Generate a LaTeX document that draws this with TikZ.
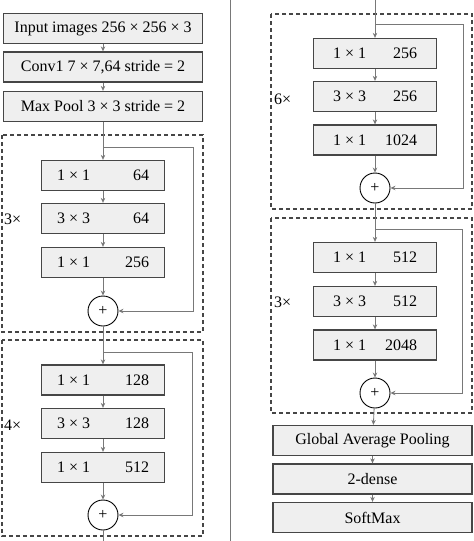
\documentclass[tikz,border=0pt]{standalone}
\usepackage{fontspec}
\setmainfont{Liberation Serif}
\usepackage{tikz}
\usetikzlibrary{arrows.meta}
\usepackage{xcolor}
\definecolor{boxfill}{RGB}{239,239,239}
\definecolor{boxline}{RGB}{70,70,70}
\definecolor{connline}{RGB}{120,120,120}

\begin{document}
\begin{tikzpicture}[x=1pt,y=-1pt,
  box/.style={draw=boxline,fill=boxfill,line width=1.3pt,minimum width=123pt,minimum height=30pt,inner sep=0pt,font=\fontsize{16}{19}\selectfont},
  wide/.style={box,minimum width=199pt},
  plus/.style={draw=black,circle,line width=0.9pt,minimum size=30pt,inner sep=0pt,font=\fontsize{16}{19}\selectfont},
  blk/.style={draw=boxline,line width=1.2pt,dash pattern=on 4pt off 3pt},
  conn/.style={draw=connline,line width=0.8pt},
  arr/.style={conn,-{Stealth[length=5pt,width=4.5pt]}},
  times/.style={font=\fontsize{16}{19}\selectfont,anchor=west,inner sep=0pt}]
\useasboundingbox (0,0) rectangle (474,541);
\draw[connline,line width=0.8pt] (230,0) -- (230,541);

  \node[wide] (inp)  at (103,28.5) {Input images 256 × 256 × 3};
  \node[wide] (conv) at (103,67)   {Conv1 7 × 7,64 stride = 2};
  \node[wide] (pool) at (103,106.5) {Max Pool 3 × 3 stride = 2};
\draw[arr] (inp) -- (conv);
\draw[arr] (conv) -- (pool);

\draw[blk] (2,135) rectangle (203,332);
  \node[times] (n1) at (4,219) {3×};
  \node[box] (a1) at (103,175.5) {\makebox[92pt]{1 × 1\hfill 64}};
  \node[box] (a2) at (103,218.5) {\makebox[92pt]{3 × 3\hfill 64}};
  \node[box] (a3) at (103,262.5) {\makebox[92pt]{1 × 1\hfill 256}};
  \node[plus] (c1) at (103,311) {+};
\coordinate (s1) at (103,147);
\coordinate (k1) at (193,147);
\draw[arr] (pool) -- (a1);
\draw[arr] (a1) -- (a2);
\draw[arr] (a2) -- (a3);
\draw[arr] (a3) -- (c1);
\draw[arr] (s1) -- (k1) |- (c1);

\draw[blk] (2,340) rectangle (203,536);
  \node[times] (n2) at (4,425) {4×};
  \node[box] (b1) at (103,380) {\makebox[92pt]{1 × 1\hfill 128}};
  \node[box] (b2) at (103,423.5) {\makebox[92pt]{3 × 3\hfill 128}};
  \node[box] (b3) at (103,467.5) {\makebox[92pt]{1 × 1\hfill 512}};
  \node[plus] (c2) at (103,515) {+};
\coordinate (s2) at (103,352);
\coordinate (k2) at (192,352);
\coordinate (bot) at (103,541);
\draw[arr] (c1) -- (b1);
\draw[arr] (b1) -- (b2);
\draw[arr] (b2) -- (b3);
\draw[arr] (b3) -- (c2);
\draw[arr] (s2) -- (k2) |- (c2);
\draw[conn] (c2) -- (bot);

\draw[blk] (271,14) rectangle (472,209);
  \node[times] (n3) at (274,99) {6×};
  \node[box] (d1) at (375,53.5) {\makebox[84pt]{1 × 1\hfill 256}};
  \node[box] (d2) at (375,96.5) {\makebox[84pt]{3 × 3\hfill 256}};
  \node[box] (d3) at (375,140)  {\makebox[84pt]{1 × 1\hfill 1024}};
  \node[plus] (c3) at (375,188) {+};
\coordinate (top) at (375,0);
\coordinate (s3) at (375,24);
\coordinate (k3) at (463,24);
\draw[arr] (top) -- (d1);
\draw[arr] (d1) -- (d2);
\draw[arr] (d2) -- (d3);
\draw[arr] (d3) -- (c3);
\draw[arr] (s3) -- (k3) |- (c3);

\draw[blk] (271,218) rectangle (472,413);
  \node[times] (n4) at (274,302) {3×};
  \node[box] (e1) at (375,257.5) {\makebox[84pt]{1 × 1\hfill 512}};
  \node[box] (e2) at (375,301.5) {\makebox[84pt]{3 × 3\hfill 512}};
  \node[box] (e3) at (375,345)   {\makebox[84pt]{1 × 1\hfill 2048}};
  \node[plus] (c4) at (375,393) {+};
\coordinate (s4) at (375,229);
\coordinate (k4) at (462,229);
\draw[arr] (c3) -- (e1);
\draw[arr] (e1) -- (e2);
\draw[arr] (e2) -- (e3);
\draw[arr] (e3) -- (c4);
\draw[arr] (s4) -- (k4) |- (c4);

  \node[wide] (gap)   at (372.5,440.5) {Global Average Pooling};
  \node[wide] (dense) at (372.5,479)   {2-dense};
  \node[wide] (soft)  at (372.5,517.5) {SoftMax};
\draw[arr] (c4) -- (gap);
\draw[arr] (gap) -- (dense);
\draw[arr] (dense) -- (soft);
\end{tikzpicture}
\end{document}
